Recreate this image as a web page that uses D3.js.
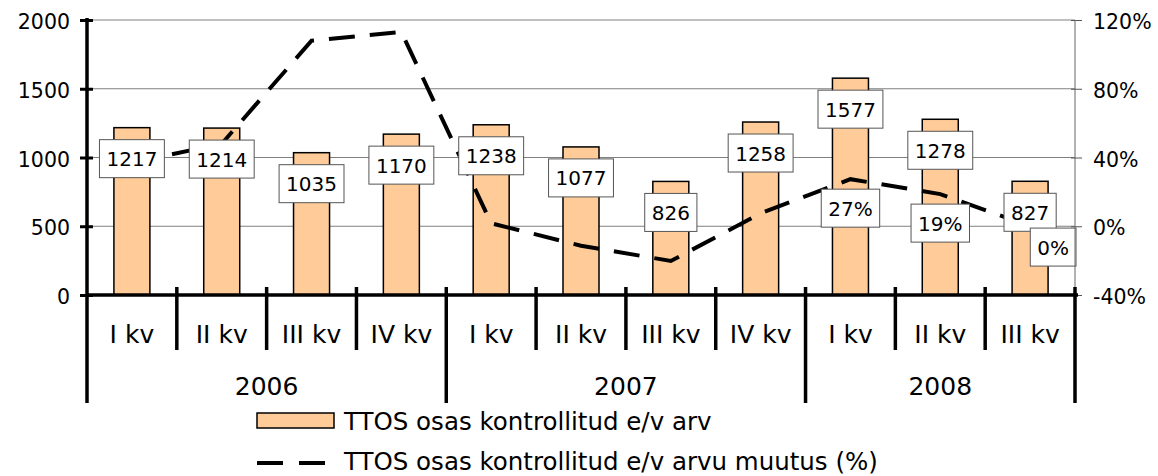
<!DOCTYPE html>
<html><head><meta charset="utf-8">
<script src="https://cdn.jsdelivr.net/npm/d3@7"></script>
<style>
body{margin:0;background:#fff;}
text{font-family:"DejaVu Sans",Verdana,sans-serif;fill:#000;}
</style></head>
<body><svg id="c" width="1158" height="476"></svg>
<script>
const quarters = ["I kv","II kv","III kv","IV kv","I kv","II kv","III kv","IV kv","I kv","II kv","III kv"];
const years = ["2006","2006","2006","2006","2007","2007","2007","2007","2008","2008","2008"];
const counts = [1217,1214,1035,1170,1238,1077,826,1258,1577,1278,827];
const changePct = [37,48,108,113,1.7,-11.3,-20.2,7.5,27.4,18.7,0.1];
const pctLabelShown = [false,false,false,false,false,false,false,false,true,true,true];
const leftTicks = [0,500,1000,1500,2000];
const rightTicks = [-40,0,40,80,120];
const legendNames = ["TTOS osas kontrollitud e/v arv","TTOS osas kontrollitud e/v arvu muutus (%)"];

const svg = d3.select("#c");
const L = 87, R = 1075, T = 20, B = 295;
const idx = d3.range(counts.length);
const x = d3.scaleBand().domain(idx).range([L, R]).padding(0);
const yL = d3.scaleLinear().domain([0,2000]).range([B, T]);
const yR = d3.scaleLinear().domain([-40,120]).range([B, T]);
const FS = 20, FB = 25;

// gridlines
svg.append("g").selectAll("line").data(leftTicks.filter(d=>d>0)).join("line")
  .attr("x1", L).attr("x2", R).attr("y1", d=>yL(d)).attr("y2", d=>yL(d))
  .attr("stroke", "#808080").attr("stroke-width", 1);

// bars
const bw = 36;
svg.append("g").selectAll("rect").data(idx).join("rect")
  .attr("x", i => x(i) + x.bandwidth()/2 - bw/2)
  .attr("y", i => yL(counts[i]))
  .attr("width", bw)
  .attr("height", i => B - yL(counts[i]))
  .attr("fill", "#ffcc99").attr("stroke", "#000").attr("stroke-width", 1.5);

// line
const line = d3.line().x(i => x(i) + x.bandwidth()/2).y(i => yR(changePct[i]));
svg.append("path").datum(idx).attr("d", line)
  .attr("fill", "none").attr("stroke", "#000").attr("stroke-width", 4)
  .attr("stroke-dasharray", "26,15");

// label boxes
function boxLabel(g, cx, cy, txt, alignRight) {
  const t = g.append("text").attr("x", cx).attr("y", cy + 7.5).attr("text-anchor","middle")
    .style("font-size", FS+"px").text(txt);
  const bb = t.node().getBBox();
  const w = bb.width + 14, h = 38;
  let bx = cx - w/2;
  if (alignRight !== undefined) { bx = alignRight - w; t.attr("x", bx + w/2); }
  g.insert("rect", "text").attr("x", bx).attr("y", cy - h/2).attr("width", w).attr("height", h)
    .attr("fill", "#fff").attr("stroke", "#555").attr("stroke-width", 1);
}
const lab = svg.append("g");
idx.forEach(i => {
  const g = lab.append("g");
  boxLabel(g, x(i) + x.bandwidth()/2, yL(counts[i]) + 31, String(counts[i]));
});
idx.filter(i => pctLabelShown[i]).forEach(i => {
  const g = lab.append("g");
  const last = i === counts.length - 1;
  boxLabel(g, x(i) + x.bandwidth()/2, yR(changePct[i]) + (last ? 21 : 29),
    Math.round(changePct[i]) + "%", last ? R + 1 : undefined);
});

// left axis
const axL = svg.append("g").attr("transform", `translate(${L},0)`)
  .call(d3.axisLeft(yL).tickValues(leftTicks).tickSize(7).tickPadding(10).tickFormat(d3.format("d")));
axL.select(".domain").remove();
axL.selectAll(".tick line").attr("stroke","#000").attr("stroke-width",3).attr("x2",-7).attr("x1",6);
axL.selectAll(".tick text").style("font-size", (FS+0.5)+"px").attr("font-family", null).attr("dy","0.42em");
svg.append("line").attr("x1",L).attr("x2",L).attr("y1",T-2).attr("y2",403)
  .attr("stroke","#000").attr("stroke-width",3.5);

// right axis
const axR = svg.append("g").attr("transform", `translate(${R},0)`)
  .call(d3.axisRight(yR).tickValues(rightTicks).tickSize(7).tickPadding(11).tickFormat(d => d + "%"));
axR.select(".domain").remove();
axR.selectAll(".tick line").attr("stroke","#555").attr("stroke-width",1).attr("x1",-4).attr("x2",7);
axR.selectAll(".tick text").style("font-size", (FS+0.5)+"px").attr("font-family", null).attr("dy","0.42em");
svg.append("line").attr("x1",R).attr("x2",R).attr("y1",T).attr("y2",B)
  .attr("stroke","#666").attr("stroke-width",1);

// bottom axis
const axB = svg.append("g").attr("transform", `translate(0,${B})`)
  .call(d3.axisBottom(x).tickSize(0).tickPadding(30).tickFormat(i => quarters[i]));
axB.select(".domain").remove();
axB.selectAll(".tick text").style("font-size", FB+"px").attr("font-family", null)
  .attr("dy", null).attr("y", 48);
svg.append("line").attr("x1",L).attr("x2",R+3).attr("y1",B).attr("y2",B)
  .attr("stroke","#000").attr("stroke-width",3.5);

// boundary ticks
const bounds = d3.range(1, counts.length + 1);
svg.append("g").selectAll("line").data(bounds).join("line")
  .attr("x1", k => k < counts.length ? x(k) : R).attr("x2", k => k < counts.length ? x(k) : R)
  .attr("y1", B - 8)
  .attr("y2", k => (k === counts.length || years[k] !== years[k-1]) ? 403 : 350)
  .attr("stroke","#000").attr("stroke-width",3.5);

// year labels
const yearGroups = d3.groups(idx, i => years[i]);
svg.append("g").selectAll("text").data(yearGroups).join("text")
  .attr("x", d => (x(d[1][0]) + x(d[1][d[1].length-1]) + x.bandwidth())/2)
  .attr("y", 395).attr("text-anchor","middle")
  .style("font-size", FB+"px").text(d => d[0]);

// legend
const lg = svg.append("g");
lg.append("rect").attr("x",257).attr("y",413).attr("width",77).attr("height",15)
  .attr("fill","#ffcc99").attr("stroke","#000").attr("stroke-width",1.5);
lg.append("line").attr("x1",257).attr("x2",327).attr("y1",463).attr("y2",463)
  .attr("stroke","#000").attr("stroke-width",4).attr("stroke-dasharray","26,16");
lg.selectAll("text").data(legendNames).join("text")
  .attr("x",344).attr("y",(d,i)=> i===0 ? 430 : 470)
  .style("font-size", (FB-0.5)+"px").text(d=>d);
</script></body></html>
